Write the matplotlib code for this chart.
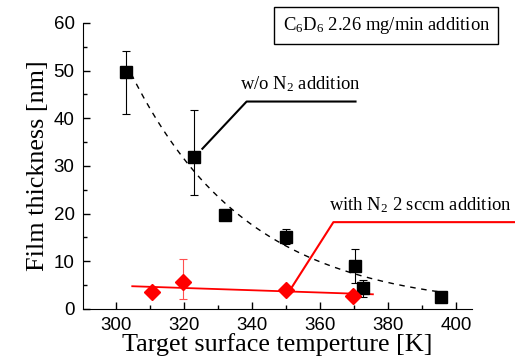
import matplotlib.pyplot as plt
import numpy as np

# ---- data ----
temp_wo = [302.9, 323.0, 332.1, 349.9, 370.1, 372.7, 395.6]
thick_wo = [49.7, 31.9, 19.6, 15.1, 9.1, 4.3, 2.5]
err_wo_lo = [8.9, 8.0, 0.8, 1.4, 3.7, 1.8, 0.9]
err_wo_hi = [4.5, 9.9, 0.8, 1.7, 3.5, 1.7, 0.9]
xerr_wo = [0.0, 0.0, 1.5, 0.0, 1.5, 0.0, 1.5]

temp_n2 = [310.5, 319.8, 350.0, 369.8]
thick_n2 = [3.5, 5.6, 4.0, 2.8]
err_n2_lo = [0.0, 3.5, 0.0, 0.0]
err_n2_hi = [0.0, 4.9, 0.0, 0.0]

plt.rcParams['mathtext.fontset'] = 'custom'
plt.rcParams['mathtext.rm'] = 'Liberation Serif'
plt.rcParams['mathtext.it'] = 'Liberation Serif:italic'

fig = plt.figure(figsize=(5.15, 3.63), dpi=100)
ax = fig.add_axes([0.161, 0.149, 0.756, 0.788])

# exponential decay guide through the black points
p = np.polyfit(temp_wo, np.log(thick_wo), 1, w=np.sqrt(thick_wo))
tt = np.linspace(304.5, 396, 200)
ax.plot(tt, np.exp(np.polyval(p, tt)), color='black', ls=(0, (4, 4)), lw=1)

# linear fit through the red points
q = np.polyfit(temp_n2, thick_n2, 1)
tr = np.linspace(304.8, 375.5, 10)
ax.plot(tr, np.polyval(q, tr), color='red', lw=1.3)

ax.errorbar(temp_wo, thick_wo, yerr=[err_wo_lo, err_wo_hi], xerr=xerr_wo, fmt='s',
            color='black', ms=8.5, elinewidth=0.8, capsize=3, capthick=0.8, zorder=5)
ax.errorbar(temp_n2, thick_n2, yerr=[err_n2_lo, err_n2_hi], fmt='D', color='red',
            ecolor='#ff5050', ms=8.5, elinewidth=0.8, capsize=3, capthick=0.8, zorder=5)

ax.set_xlim(290.3, 404.7)
ax.set_ylim(0, 60)
ax.set_xticks([300, 320, 340, 360, 380, 400])
ax.set_xticks(np.arange(310, 400, 20), minor=True)
ax.set_yticks([0, 10, 20, 30, 40, 50, 60])
ax.set_yticks(np.arange(5, 60, 10), minor=True)
for s in ['top', 'right']:
    ax.spines[s].set_visible(False)
ax.tick_params(direction='in', length=5, width=1, labelsize=13.5, pad=6)
ax.tick_params(which='minor', direction='in', length=3, width=1)
for lab in ax.get_xticklabels() + ax.get_yticklabels():
    lab.set_family('Liberation Sans')

ax.set_xlabel('Target surface temperture [K]', family='Liberation Serif', fontsize=18.8, labelpad=-1)
ax.set_ylabel('Film thickness [nm]', family='Liberation Serif', fontsize=18.8, labelpad=3)

# leader lines and labels
ax.plot([325.4, 338.4, 370.4], [33.6, 43.5, 43.5], color='black', lw=1.5, clip_on=False)
ax.text(336.5, 45, 'w/o N$_2$ addition', family='Liberation Serif', fontsize=13.4,
        ha='left', va='bottom')
ax.plot([351.2, 363.9, 418], [4.0, 18.2, 18.2], color='red', lw=1.5, clip_on=False)
ax.text(362.7, 19.7, 'with N$_2$ 2 sccm addition', family='Liberation Serif', fontsize=13.4,
        ha='left', va='bottom', clip_on=False)

fig.text(0.75, 0.930, 'C$_6$D$_6$ 2.26 mg/min addition', family='Liberation Serif',
         fontsize=13.4, ha='center', va='center',
         bbox=dict(boxstyle='square,pad=0.45', fc='white', ec='black', lw=1))

fig.savefig('out.png', dpi=100)
